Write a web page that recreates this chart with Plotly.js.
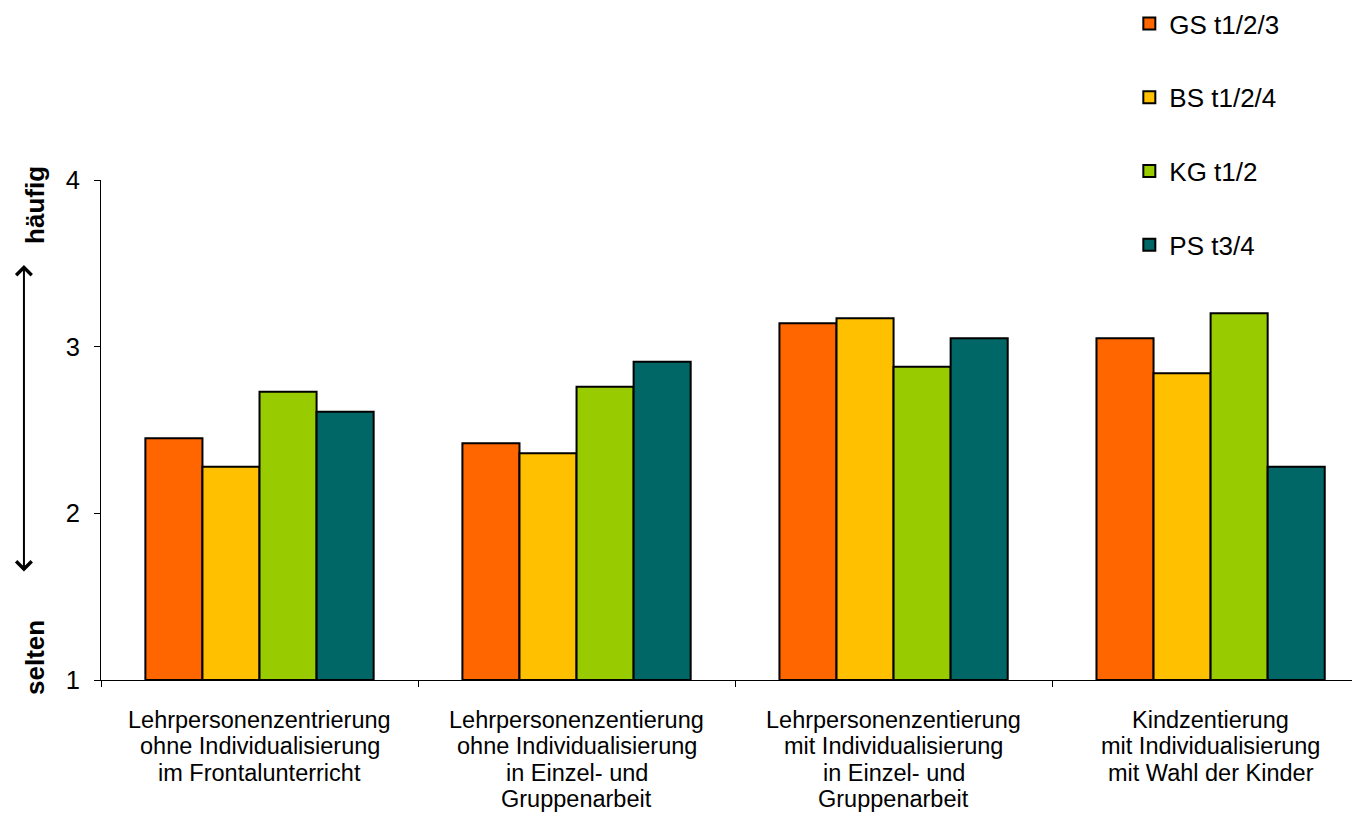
<!DOCTYPE html>
<html>
<head>
<meta charset="utf-8">
<script src="https://cdn.plot.ly/plotly-3.0.1.min.js"></script>
<style>html,body{margin:0;padding:0;background:#fff;}#chart{width:1352px;height:821px;}</style>
</head>
<body>
<div id="chart"></div>
<script>
const categories = ["Kat1", "Kat2", "Kat3", "Kat4"];
const categoryLabels = [
  ["Lehrpersonenzentrierung", "ohne Individualisierung", "im Frontalunterricht"],
  ["Lehrpersonenzentierung", "ohne Individualisierung", "in Einzel- und", "Gruppenarbeit"],
  ["Lehrpersonenzentierung", "mit Individualisierung", "in Einzel- und", "Gruppenarbeit"],
  ["Kindzentierung", "mit Individualisierung", "mit Wahl der Kinder"]
];
const seriesNames = ["GS t1/2/3", "BS t1/2/4", "KG t1/2", "PS t3/4"];
const gsValues = [2.45, 2.42, 3.14, 3.05];
const bsValues = [2.28, 2.36, 3.17, 2.84];
const kgValues = [2.73, 2.76, 2.88, 3.20];
const psValues = [2.61, 2.91, 3.05, 2.28];
const yTickVals = [1, 2, 3, 4];
const colors = ["#FF6600", "#FFC000", "#99CC00", "#006666"];

const allValues = [gsValues, bsValues, kgValues, psValues];
const traces = allValues.map((vals, i) => ({
  type: "bar",
  name: seriesNames[i],
  x: categories,
  y: vals.map(v => v - 1),
  base: 1,
  legendgroup: "g" + i,
  marker: {color: colors[i], line: {color: "#000", width: 2}},
  hoverinfo: "skip"
}));

const fam = "Liberation Sans, Arial, sans-serif";
const font = {family: fam, size: 25.5, color: "#000"};
const catFont = {family: fam, size: 23.5, color: "#000"};
const legendFont = {family: fam, size: 26, color: "#000"};
const boldFont = {family: fam, size: 26, color: "#000"};

const annotations = [
  {xref: "paper", yref: "paper", x: -0.0528, y: 0.95, xanchor: "center", yanchor: "middle",
   text: "<b>häufig</b>", showarrow: false, textangle: -90, font: boldFont},
  {xref: "paper", yref: "paper", x: -0.0528, y: 0.046, xanchor: "center", yanchor: "middle",
   text: "<b>selten</b>", showarrow: false, textangle: -90, font: boldFont},
  {xref: "paper", yref: "paper", x: -0.0616, y: 0.83, axref: "pixel", ayref: "pixel", ax: 0, ay: 308,
   text: "", showarrow: true, arrowside: "end+start", arrowhead: 4, startarrowhead: 4,
   arrowsize: 1.5, startarrowsize: 1.5, arrowwidth: 2, arrowcolor: "#000", standoff: 0, startstandoff: 0}
];
categoryLabels.forEach((lines, ci) => {
  lines.forEach((line, li) => {
    annotations.push({
      xref: "x", yref: "paper", x: categories[ci], y: 0,
      xanchor: "center", yanchor: "middle",
      yshift: -(40 + 26.3 * li),
      text: line, showarrow: false, font: catFont
    });
  });
});

const layout = {
  width: 1352, height: 821,
  margin: {l: 101, r: 0, t: 179, b: 141, pad: 0},
  paper_bgcolor: "#fff", plot_bgcolor: "#fff",
  font: font,
  barmode: "group",
  bargap: 0.28,
  bargroupgap: 0,
  showlegend: true,
  legend: {
    x: 0.822, xanchor: "left", y: 1.36, yanchor: "top",
    traceorder: "grouped", tracegroupgap: 37,
    font: legendFont, bgcolor: "rgba(0,0,0,0)"
  },
  xaxis: {
    type: "category",
    range: [-0.5, 3.446],
    showline: true, linecolor: "#000", linewidth: 1,
    ticks: "outside", tickson: "boundaries", ticklen: 6, tickcolor: "#000",
    showgrid: false, zeroline: false,
    showticklabels: false,
    fixedrange: true
  },
  yaxis: {
    range: [1, 4],
    tickvals: yTickVals,
    showline: true, linecolor: "#000", linewidth: 1,
    ticks: "outside", ticklen: 6, tickcolor: "#000",
    showgrid: false, zeroline: false,
    tickfont: font, ticklabelstandoff: 9,
    fixedrange: true
  },
  annotations: annotations
};

Plotly.newPlot("chart", traces, layout, {displayModeBar: false, staticPlot: true});
</script>
</body>
</html>
